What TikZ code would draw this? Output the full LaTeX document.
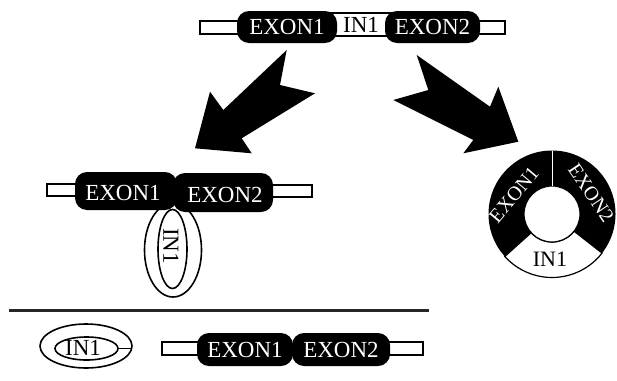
\documentclass[tikz,border=0pt]{standalone}
\usepackage{fontspec}
\setmainfont{Liberation Serif}
\usetikzlibrary{shapes.geometric,calc}
\begin{document}
\begin{tikzpicture}[x=1pt,y=-1pt,
  exon/.style={rectangle, rounded corners=12pt, fill=black, text=white, inner sep=0pt, outer sep=0pt, font=\fontsize{23}{23}\selectfont},
  bar/.style={draw=black, fill=white, line width=1.6pt},
  loop/.style={ellipse, draw=black, fill=white, line width=1.6pt, inner sep=0pt, outer sep=0pt},
  lbl/.style={font=\fontsize{23}{23}\selectfont, inner sep=0pt},
  ringlbl/.style={font=\fontsize{20}{20}\selectfont, inner sep=0pt},
  blockarrow/.style={fill=black}
]
\useasboundingbox (0,0) rectangle (617,380);
% ---------- top gene ----------
\draw[bar] (200,21) rectangle (252,34);
\draw[bar] (468,21) rectangle (505,34);
\draw[bar] (330,13) rectangle (392,36);
\node[exon, minimum width=100pt, minimum height=32pt] (te1) at (287,27) {EXON1};
\node[exon, minimum width=95pt, minimum height=32pt] (te2) at (432.5,27) {EXON2};
\node[lbl] (tin) at (361,25) {IN1};
% ---------- arrows ----------
\fill[blockarrow] (286.7,50) -- (280,85) -- (315,93.3) -- (241.7,138.3) -- (251.7,153.3) -- (195,148.3) -- (210,91.7) -- (223.3,110) -- cycle;
\fill[blockarrow] (416.7,55) -- (428.3,90) -- (393.3,100) -- (473.3,140) -- (463.3,153.3) -- (518.3,141.7) -- (498.3,86.7) -- (490,106.7) -- cycle;
% ---------- middle (lariat) ----------
\draw[bar] (47,184) rectangle (90,196);
\draw[bar] (260,185) rectangle (312,197);
\node[loop, minimum width=57pt, minimum height=94pt] (mloop) at (173,250) {};
\node[loop, minimum width=29pt, minimum height=79pt] (min) at (172.5,249) {};
\node[lbl, rotate=-90] (mintxt) at (171,246) {IN1};
\node[exon, minimum width=102pt, minimum height=38pt] (me1) at (126,191) {};
\node[exon, minimum width=100pt, minimum height=39pt] (me2) at (223,192.5) {};
\node[lbl, text=white] at (123,193) {EXON1};
\node[lbl, text=white] at (225,195) {EXON2};
% ---------- circle ----------
\coordinate (c) at (552,214);
\fill[black] (c) circle (63.5);
\filldraw[fill=white, draw=black, line width=1.2pt] ($(c)+(38:63.5)$) arc[start angle=38, end angle=138, radius=63.5] -- ($(c)+(138:28)$) arc[start angle=138, end angle=38, radius=28] -- cycle;
\filldraw[fill=white, draw=black, line width=1.2pt] (c) circle (28);
\draw[white, line width=1pt] ($(c)+(270:28)$) -- ($(c)+(270:63.5)$);
\node[ringlbl, text=white, rotate=50] (ce1) at (514,195) {EXON1};
\node[ringlbl, text=white, rotate=-56] (ce2) at (591,193) {EXON2};
\node[ringlbl, font=\fontsize{22}{22}\selectfont] (cin) at (550,259) {IN1};
% ---------- divider ----------
\coordinate (dl) at (9,310.7);
\coordinate (dr) at (429,310.7);
\draw[line width=2.5pt, black!85] (dl) -- (dr);
% ---------- bottom ----------
\node[loop, minimum width=92pt, minimum height=44pt] (bloop) at (86,346) {};
\node[loop, minimum width=63pt, minimum height=23pt] (bin) at (86.5,348.5) {};
\node[lbl] at (83,348) {IN1};
\draw[line width=1.6pt] (bin.east) -- (bloop.east |- bin.east);
\draw[bar] (162,342) rectangle (205,355);
\draw[bar] (382,342) rectangle (423,355);
\node[exon, minimum width=96pt, minimum height=33pt] (be1) at (245,349.5) {EXON1};
\node[exon, minimum width=98pt, minimum height=33pt] (be2) at (341,349.5) {EXON2};
\end{tikzpicture}
\end{document}
